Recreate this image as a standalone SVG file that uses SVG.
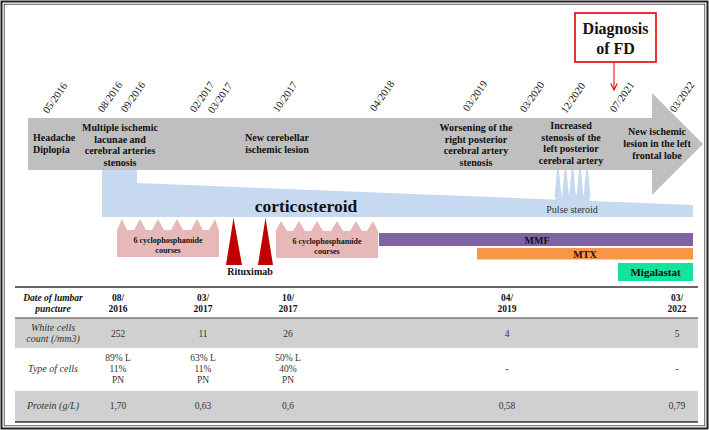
<svg xmlns="http://www.w3.org/2000/svg" width="709" height="430" viewBox="0 0 709 430">
<defs>
<style>
text{font-family:"Liberation Serif","Times New Roman",serif;fill:#111}
.b{font-weight:bold}
.ev{font-size:10px;font-weight:bold;text-anchor:middle}
.dt{font-size:10.5px}
.cy{font-size:8px;font-weight:bold;text-anchor:middle}
.th{font-size:9.5px;font-weight:bold;text-anchor:middle}
.td{font-size:9.5px;text-anchor:middle;fill:#333}
.tl{font-size:10px;font-style:italic;text-anchor:middle;fill:#333}
.thl{font-size:9.5px;font-style:italic;font-weight:bold;text-anchor:middle}
.pink{fill:#e6b9b8}
.rit{fill:#c00000}
.grow{fill:#d0d0d0}
.blue{fill:#c6d9f1}
</style>
<marker id="ah" viewBox="0 0 10 10" refX="9" refY="5" markerWidth="8" markerHeight="8" orient="auto" markerUnits="userSpaceOnUse">
<path d="M1,1 L9,5 L1,9" fill="none" stroke="#e00000" stroke-width="1.4"/>
</marker>
</defs>
<rect x="0" y="0" width="709" height="430" fill="#fff"/>
<rect x="1.5" y="1.5" width="706" height="427" fill="none" stroke="#222" stroke-width="2"/>
<rect x="4.2" y="4.2" width="700.6" height="421.6" fill="none" stroke="#333" stroke-width="0.8"/>

<g id="timeline">
<path d="M28,118 L652,118 L652,93 L703,144 L652,195 L652,170 L28,170 Z" fill="#bfbfbf"/>
</g>

<g id="dates">
<text class="dt" transform="translate(48,114) rotate(-55)">05/2016</text>
<text class="dt" transform="translate(103,113) rotate(-55)">08/2016</text>
<text class="dt" transform="translate(126,113) rotate(-55)">09/2016</text>
<text class="dt" transform="translate(195,113) rotate(-55)">02/2017</text>
<text class="dt" transform="translate(213,114) rotate(-55)">03/2017</text>
<text class="dt" transform="translate(278,113) rotate(-55)">10/2017</text>
<text class="dt" transform="translate(375,112) rotate(-55)">04/2018</text>
<text class="dt" transform="translate(468,112) rotate(-55)">03/2019</text>
<text class="dt" transform="translate(525,113) rotate(-55)">03/2020</text>
<text class="dt" transform="translate(566,114) rotate(-55)">12/2020</text>
<text class="dt" transform="translate(615,113) rotate(-55)">07/2021</text>
<text class="dt" transform="translate(675,113) rotate(-55)">03/2022</text>
</g>

<g id="events">
<text class="ev" style="text-anchor:start" x="33" y="141">Headache</text>
<text class="ev" style="text-anchor:start" x="33" y="153">Diplopia</text>
<text class="ev" x="120" y="131">Multiple ischemic</text>
<text class="ev" x="120" y="142.7">lacunae and</text>
<text class="ev" x="120" y="154.4">cerebral arteries</text>
<text class="ev" x="120" y="166">stenosis</text>
<text class="ev" x="277" y="141">New cerebellar</text>
<text class="ev" x="277" y="153">ischemic lesion</text>
<text class="ev" x="476" y="131">Worsening of the</text>
<text class="ev" x="476" y="142.7">right posterior</text>
<text class="ev" x="476" y="154.4">cerebral artery</text>
<text class="ev" x="476" y="166">stenosis</text>
<text class="ev" x="571" y="129">Increased</text>
<text class="ev" x="571" y="140.5">stenosis of the</text>
<text class="ev" x="571" y="152">left posterior</text>
<text class="ev" x="571" y="163.5">cerebral artery</text>
<text class="ev" x="657" y="135">New ischemic</text>
<text class="ev" x="657" y="147">lesion in the left</text>
<text class="ev" x="657" y="158.5">frontal lobe</text>
</g>

<g id="diagnosis">
<rect x="575" y="13" width="81" height="49" fill="#fff" stroke="#e00000" stroke-width="1.6"/>
<text class="b" x="615.5" y="34" style="font-size:16px;text-anchor:middle">Diagnosis</text>
<text class="b" x="615.5" y="54" style="font-size:16px;text-anchor:middle">of FD</text>
</g>

<g id="connectors">
<line x1="614" y1="62" x2="614" y2="90" stroke="#e00000" stroke-width="1" marker-end="url(#ah)"/>
</g>

<g id="corticosteroid">
<path class="blue" d="M102,170 L137,170 L137,183 L693,205 L693,217 L102,217 Z"/>
<rect class="blue" x="555.5" y="195" width="34" height="8"/>
<path class="blue" d="M557,170 L559,170 L561.5,197 L554.5,197 Z"/>
<path class="blue" d="M564.5,170 L566.5,170 L569,197 L562,197 Z"/>
<path class="blue" d="M571.5,170 L573.5,170 L576,197 L569,197 Z"/>
<path class="blue" d="M579,170 L581,170 L583.5,197 L576.5,197 Z"/>
<path class="blue" d="M586,170 L588,170 L590.5,197 L583.5,197 Z"/>
<text class="b" x="306" y="212" style="font-size:17.5px;text-anchor:middle">corticosteroid</text>
<text x="572" y="213" style="font-size:10px;text-anchor:middle;fill:#333">Pulse steroid</text>
</g>

<g id="cyclo1">
<path class="pink" d="M117,257 L117,230 L122,219 L127,230 L134,230 L140,219 L146,230 L152,230 L158,219 L164,230 L171,230 L177,219 L183,230 L191,230 L197,219 L203,230 L209,230 L215,219 L219,230 L219,257 Z"/>
<text class="cy" x="168" y="243">6 cyclophosphamide</text>
<text class="cy" x="168" y="253">courses</text>
</g>

<g id="cyclo2">
<path class="pink" d="M276,258 L276,230 L281,221 L287,231 L293,231 L299,221 L305,231 L311,231 L317,221 L323,231 L331,231 L337,221 L343,231 L350,231 L356,221 L362,231 L367,231 L373,221 L378,231 L378,258 Z"/>
<text class="cy" x="327" y="244">6 cyclophosphamide</text>
<text class="cy" x="327" y="254">courses</text>
</g>

<g id="rituximab">
<path class="rit" d="M233.5,218 L242,265 L226,265 Z"/>
<path class="rit" d="M265.5,218 L273,265 L258,265 Z"/>
<text class="b" x="250" y="275" style="font-size:10px;text-anchor:middle">Rituximab</text>
</g>

<g id="mmf">
<rect x="379" y="233" width="314" height="13" fill="#8064a2"/>
<text class="b" x="537" y="243.5" style="font-size:10px;text-anchor:middle">MMF</text>
</g>
<g id="mtx">
<rect x="477" y="248" width="216" height="11.5" fill="#f79646"/>
<text class="b" x="585" y="257.5" style="font-size:10px;text-anchor:middle">MTX</text>
</g>
<g id="migalastat">
<rect x="618" y="263" width="75" height="18" fill="#14e39a"/>
<text class="b" x="655.5" y="276" style="font-size:11px;text-anchor:middle">Migalastat</text>
</g>

<g id="table">
<rect class="grow" x="15" y="318" width="683" height="30"/>
<rect class="grow" x="15" y="391" width="683" height="31"/>
<line x1="15" y1="287" x2="698" y2="287" stroke="#333" stroke-width="1.5"/>
<line x1="15" y1="318" x2="698" y2="318" stroke="#444" stroke-width="1"/>
<line x1="15" y1="422" x2="698" y2="422" stroke="#333" stroke-width="1.5"/>
<text class="thl" x="53" y="301">Date of lumbar</text>
<text class="thl" x="53" y="312">puncture</text>
<text class="th" x="118" y="301">08/</text><text class="th" x="118" y="312">2016</text>
<text class="th" x="203" y="301">03/</text><text class="th" x="203" y="312">2017</text>
<text class="th" x="288" y="301">10/</text><text class="th" x="288" y="312">2017</text>
<text class="th" x="507" y="301">04/</text><text class="th" x="507" y="312">2019</text>
<text class="th" x="677" y="301">03/</text><text class="th" x="677" y="312">2022</text>
<text class="tl" x="53" y="331">White cells</text>
<text class="tl" x="53" y="342">count (/mm3)</text>
<text class="td" x="118" y="337">252</text>
<text class="td" x="203" y="337">11</text>
<text class="td" x="288" y="337">26</text>
<text class="td" x="507" y="337">4</text>
<text class="td" x="677" y="337">5</text>
<text class="tl" x="53" y="372">Type of cells</text>
<text class="td" x="118" y="361">89% L</text><text class="td" x="118" y="372">11%</text><text class="td" x="118" y="383">PN</text>
<text class="td" x="203" y="361">63% L</text><text class="td" x="203" y="372">11%</text><text class="td" x="203" y="383">PN</text>
<text class="td" x="288" y="361">50% L</text><text class="td" x="288" y="372">40%</text><text class="td" x="288" y="383">PN</text>
<text class="td" x="507" y="372">-</text>
<text class="td" x="677" y="372">-</text>
<text class="tl" x="53" y="409">Protein (g/L)</text>
<text class="td" x="118" y="409">1,70</text>
<text class="td" x="203" y="409">0,63</text>
<text class="td" x="288" y="409">0,6</text>
<text class="td" x="507" y="409">0,58</text>
<text class="td" x="677" y="409">0,79</text>
</g>
</svg>
